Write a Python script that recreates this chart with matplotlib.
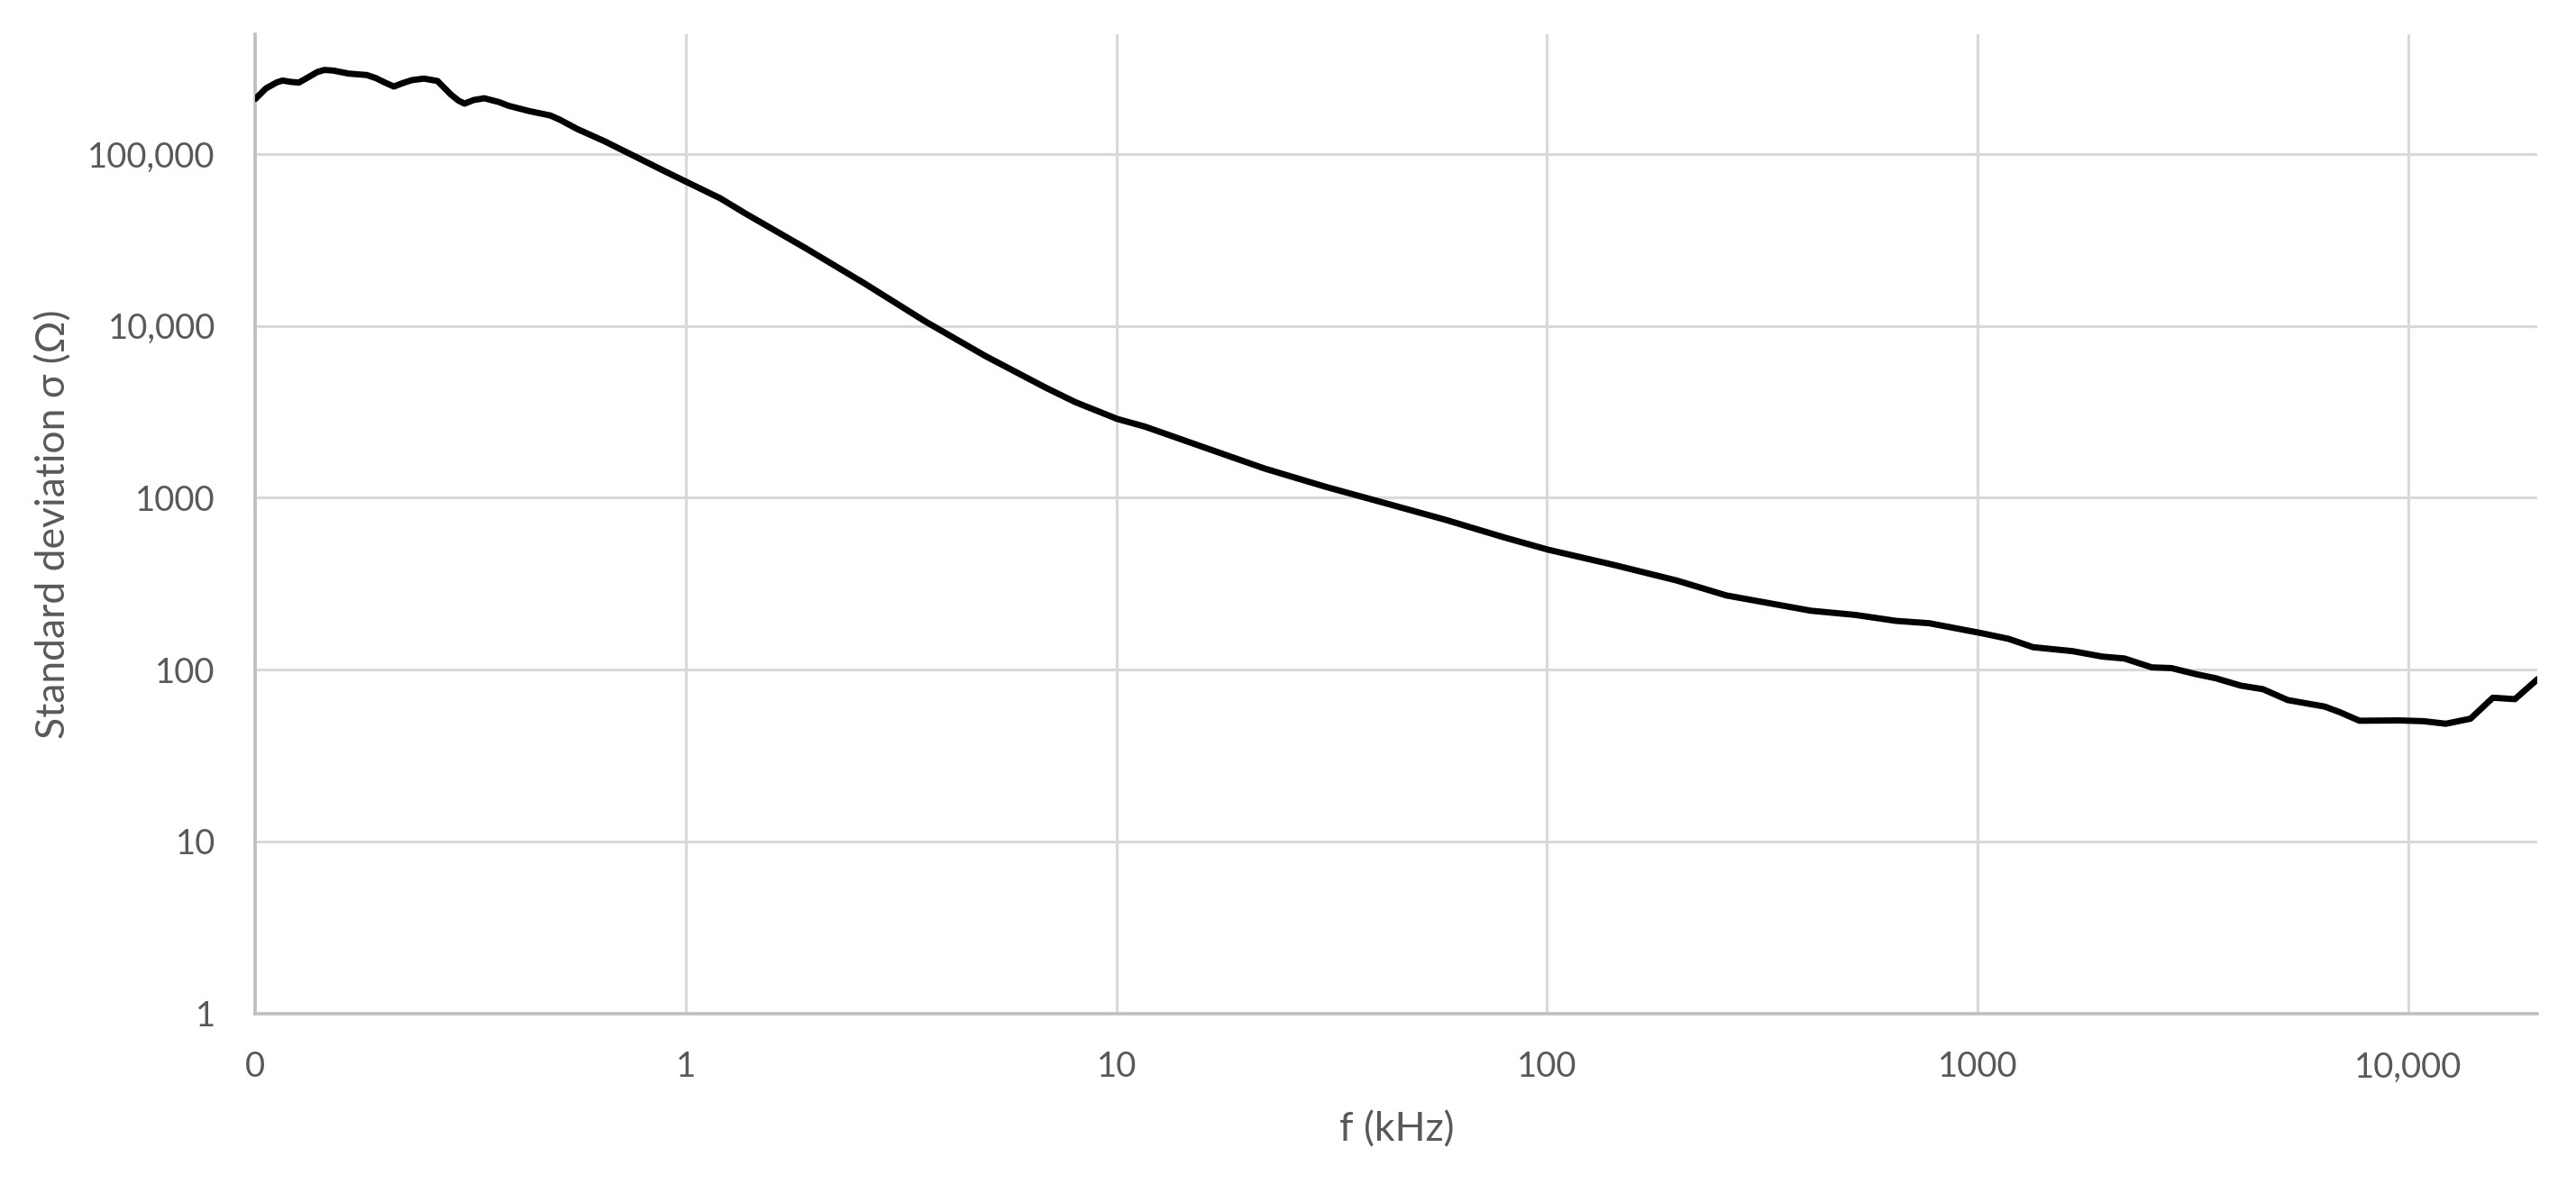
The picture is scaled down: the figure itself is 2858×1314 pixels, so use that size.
import numpy as np
import matplotlib
matplotlib.use("Agg")
import matplotlib.pyplot as plt

plt.rcParams['font.family'] = ['Lato', 'DejaVu Sans']

# frequency (kHz) and standard deviation (ohm)
freq_khz = [0.1, 0.1058, 0.112, 0.1156, 0.1213, 0.1263, 0.1326, 0.1392, 0.1448,
            0.152, 0.1648, 0.1815, 0.1905, 0.2, 0.2098, 0.22, 0.2311, 0.2465,
            0.265, 0.2757, 0.2849, 0.2965, 0.3063, 0.3214, 0.3402, 0.3685,
            0.3869, 0.433, 0.4845, 0.5085, 0.5602, 0.6474, 0.7605, 0.8935,
            1.0, 1.203, 1.373, 1.892, 2.61, 3.6, 4.96, 6.84, 8.02, 10.05,
            11.63, 16.04, 22.1, 30.5, 42.06, 57.98, 80.0, 100.7, 142.6,
            200, 261, 410, 520, 647, 773,
            1020, 1180, 1346, 1663, 1950, 2195, 2539, 2822, 3221, 3579, 4085,
            4603, 5253, 6406, 6933, 7712, 9527, 10870, 12240, 13970, 15740,
            17720, 20000]
sigma = [208500, 240000, 260000, 267000, 262000, 260000, 278500, 299000, 307700,
         305000, 293000, 287500, 276000, 260000, 246400, 258000, 268500, 274000,
         265400, 240000, 221000, 204000, 196000, 205600, 210600, 200000,
         190600, 177300, 167200, 158500, 139300, 118400, 96900, 79200,
         69000, 55100, 45100, 28400, 17530, 10590, 6674, 4375, 3600, 2870,
         2594, 1956, 1477, 1160, 930, 745, 585, 498, 407,
         330, 270, 220, 208, 192, 186,
         163, 151, 135, 128, 119, 116, 103, 102, 94, 89, 80.7,
         76.9, 66.5, 60.9, 56.6, 50.4, 50.6, 50.1, 48.4, 51.8, 68.6,
         67.3, 88]

x_ticks = [0.1, 1, 10, 100, 1000, 10000]
x_labels = ['0', '1', '10', '100', '1000', '10,000']
y_ticks = [1, 10, 100, 1000, 10000, 100000]
y_labels = ['1', '10', '100', '1000', '10,000', '100,000']

text_col = '#595959'
grid_col = '#d9d9d9'
axis_col = '#bfbfbf'

fig = plt.figure(figsize=(28.58, 13.14), dpi=100)
ax = fig.add_axes([0.0991, 0.1441, 0.886, 0.8268])

ax.plot(freq_khz, sigma, color='black', lw=5.0, solid_joinstyle='round',
        solid_capstyle='round', zorder=3)

ax.set_xscale('log')
ax.set_yscale('log')
ax.set_xlim(0.1, 20000)
ax.set_ylim(1, 4.95e5)

ax.set_xticks(x_ticks)
ax.set_xticklabels(x_labels)
ax.set_yticks(y_ticks)
ax.set_yticklabels(y_labels)
ax.minorticks_off()

ax.tick_params(axis='both', length=0, labelsize=27.5, labelcolor=text_col)
ax.tick_params(axis='x', pad=30)
ax.tick_params(axis='y', pad=32)

ax.grid(True, color=grid_col, lw=2.2, zorder=0)
ax.set_axisbelow(True)

for side in ['top', 'right']:
    ax.spines[side].set_visible(False)
for side in ['left', 'bottom']:
    ax.spines[side].set_color(axis_col)
    ax.spines[side].set_linewidth(2.6)

ax.set_xlabel('f (kHz)', fontsize=32, color=text_col)
ax.set_ylabel('Standard deviation σ (Ω)', fontsize=32, color=text_col)
ax.xaxis.set_label_coords(0.5, -0.1)
ax.yaxis.set_label_coords(-0.08, 0.5)

fig.savefig('out.png', dpi=100, facecolor='white')
